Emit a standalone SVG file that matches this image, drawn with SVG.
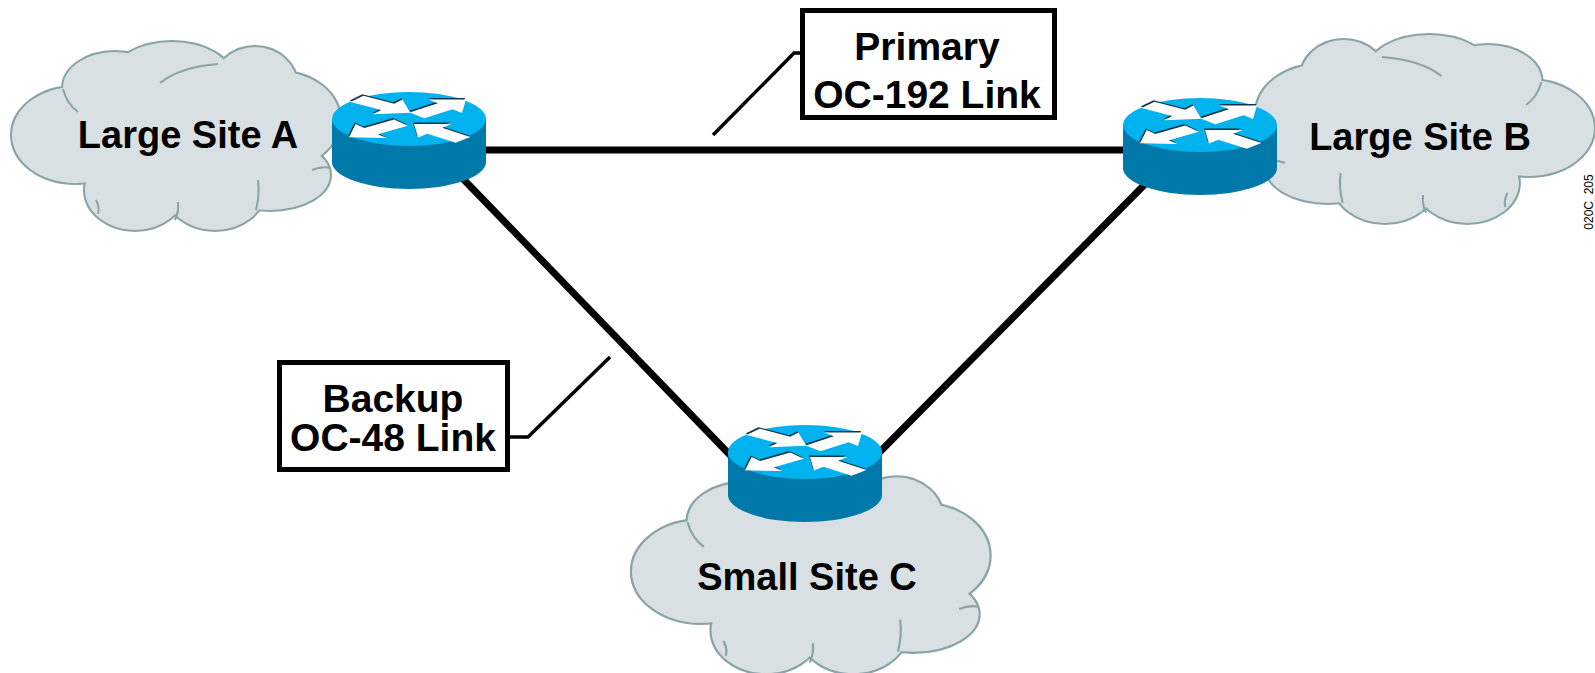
<svg xmlns="http://www.w3.org/2000/svg" xmlns:xlink="http://www.w3.org/1999/xlink" width="1595" height="673" viewBox="0 0 1595 673">
  <style>
    .lbl { font-family: "Liberation Sans", Arial, sans-serif; font-weight: bold; fill: #000; text-anchor: middle; }
    .site { font-size: 38px; }
    .boxt { font-size: 39px; }
    .link { stroke: #000; stroke-width: 7; fill: none; stroke-linecap: butt; }
    .leader { stroke: #000; stroke-width: 3.5; fill: none; }
    .box { fill: #fff; stroke: #000; stroke-width: 5; }
    .inner { fill: none; stroke: #8aa3a8; stroke-width: 2; }
    .fid { font-family: "Liberation Sans", Arial, sans-serif; font-size: 12px; fill: #000; text-anchor: middle; }
  </style>
  <defs>
    <g id="cloudLobes">
      <ellipse cx="63" cy="93" rx="63" ry="48"/>
      <ellipse cx="103" cy="46" rx="52" ry="36"/>
      <ellipse cx="160" cy="36" rx="60" ry="36"/>
      <ellipse cx="243" cy="43" rx="42" ry="38"/>
      <ellipse cx="268" cy="78" rx="60" ry="48"/>
      <ellipse cx="258" cy="133" rx="60" ry="35"/>
      <ellipse cx="203" cy="148" rx="50" ry="40"/>
      <ellipse cx="123" cy="148" rx="50" ry="40"/>
      <ellipse cx="178" cy="98" rx="110" ry="60"/>
    </g>
    <g id="cloud">
      <use xlink:href="#cloudLobes" fill="#d9e0e3" stroke="#8aa3a8" stroke-width="4"/>
      <use xlink:href="#cloudLobes" fill="#d9e0e3" stroke="none"/>
      <path class="inner" d="M51,47 Q55,62 66,70"/>
      <path class="inner" d="M148,41 Q168,25 206,22"/>
      <path class="inner" d="M246,138 Q248,152 244,168"/>
      <path class="inner" d="M166,160 Q167,170 163,178"/>
      <path class="inner" d="M84,158 Q88,166 86,172"/>
      <path class="inner" d="M300,128 Q310,124 318,126"/>
    </g>
    <path id="arrow" d="M0,-11 H38 V-25 L66,0 L38,25 V11 H0 Z"/>
    <g id="arrows">
      <use xlink:href="#arrow" transform="translate(-52,-56) rotate(36)"/>
      <use xlink:href="#arrow" transform="translate(8,-10) rotate(-42)"/>
      <use xlink:href="#arrow" transform="translate(-8,10) rotate(142)"/>
      <use xlink:href="#arrow" transform="translate(54,58) rotate(222)"/>
    </g>
    <g id="router">
      <path d="M-77,0 V43 A77,27 0 0 0 77,43 V0 Z" fill="#0079aa"/>
      <ellipse cx="0" cy="0" rx="77" ry="27" fill="#00b3ef"/>
      <g transform="scale(1,0.36)">
        <use xlink:href="#arrows" fill="#12384c" transform="translate(-1,-4)"/>
        <use xlink:href="#arrows" fill="#ffffff"/>
      </g>
    </g>
  </defs>

  <rect x="0" y="0" width="1595" height="673" fill="#ffffff"/>

  <g id="connectors">
    <line class="link" x1="409" y1="150" x2="1200" y2="150"/>
    <line class="link" x1="440" y1="155" x2="760" y2="486"/>
    <line class="link" x1="1165" y1="164" x2="860" y2="472"/>
    <polyline class="leader" points="801,53 794,53 713,135"/>
    <polyline class="leader" points="509,437 528,437 610,357"/>
  </g>

  <g id="site-a">
    <use xlink:href="#cloud" transform="translate(12,42)"/>
    <use xlink:href="#router" transform="translate(409,119)"/>
    <text class="lbl site" x="188" y="148">Large Site A</text>
  </g>

  <g id="site-b">
    <use xlink:href="#cloud" transform="translate(1594,35) scale(-1.03,1)"/>
    <use xlink:href="#router" transform="translate(1200,125)"/>
    <text class="lbl site" x="1420" y="150">Large Site B</text>
  </g>

  <g id="site-c">
    <use xlink:href="#cloud" transform="translate(632,472) scale(1.09,1.07)"/>
    <use xlink:href="#router" transform="translate(805,452)"/>
    <text class="lbl site" x="807" y="590">Small Site C</text>
  </g>

  <g id="label-primary">
    <rect class="box" x="802.5" y="10.5" width="252" height="107"/>
    <text class="lbl boxt" x="927" y="60">Primary</text>
    <text class="lbl boxt" x="927" y="108">OC-192 Link</text>
  </g>

  <g id="label-backup">
    <rect class="box" x="279.5" y="362.5" width="228" height="107"/>
    <text class="lbl boxt" x="393" y="412">Backup</text>
    <text class="lbl boxt" x="393" y="451">OC-48 Link</text>
  </g>

  <text class="fid" transform="translate(1593,202) rotate(-90)">020C_205</text>
</svg>
